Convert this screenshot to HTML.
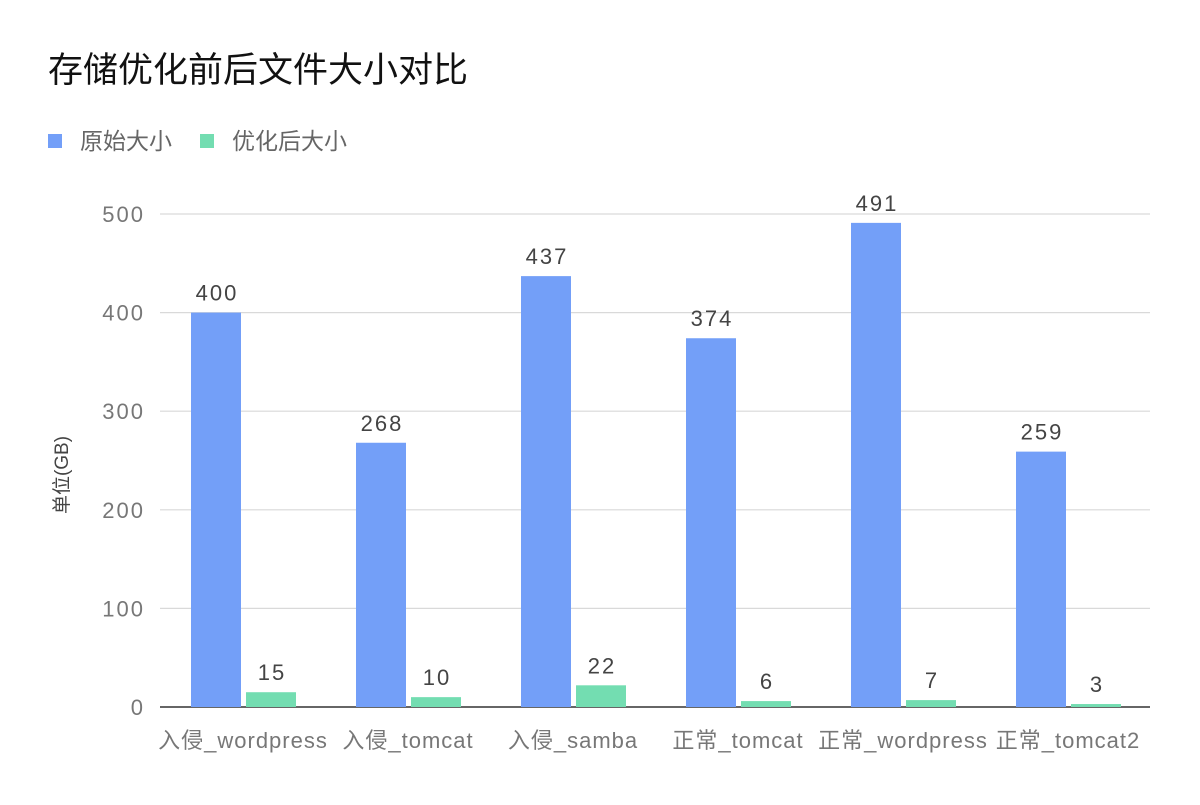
<!DOCTYPE html>
<html><head><meta charset="utf-8"><style>
body{margin:0;background:#fff;font-family:"Liberation Sans","Noto Sans CJK SC",sans-serif;}
</style></head><body>
<svg id="c" width="1200" height="800" xmlns="http://www.w3.org/2000/svg">
<text x="48" y="82" font-size="35" fill="#111" font-family="Liberation Sans, Noto Sans CJK SC, sans-serif">存储优化前后文件大小对比</text>
<g>
<rect x="48" y="134" width="14" height="14" fill="#739ff8"/>
<text x="80" y="149" font-size="23" fill="#666" font-family="Liberation Sans, Noto Sans CJK SC, sans-serif">原始大小</text>
<rect x="200" y="134" width="14" height="14" fill="#73ddb1"/>
<text x="232" y="149" font-size="23" fill="#666" font-family="Liberation Sans, Noto Sans CJK SC, sans-serif">优化后大小</text>
</g>
<text transform="translate(68,475) rotate(-90)" text-anchor="middle" font-size="19" fill="#444" font-family="Liberation Sans, Noto Sans CJK SC, sans-serif">单位(GB)</text>
<g id="grid"></g><g id="bars"></g>
</svg>
<script>
const categories=["入侵_wordpress","入侵_tomcat","入侵_samba","正常_tomcat","正常_wordpress","正常_tomcat2"];
const original=[400,268,437,374,491,259];
const optimized=[15,10,22,6,7,3];
const yTicks=[0,100,200,300,400,500];
const NS="http://www.w3.org/2000/svg";
const x0=160,x1=1150,y0=707,y500=214;
const y=v=>y0-(y0-y500)*v/500;
const bw=(x1-x0)/categories.length;
const grid=document.getElementById('grid'),bars=document.getElementById('bars');
function mk(tag,a,p){const e=document.createElementNS(NS,tag);for(const k in a)e.setAttribute(k,a[k]);p.appendChild(e);return e;}
const ff="Liberation Sans, Noto Sans CJK SC, sans-serif";
yTicks.forEach(t=>{
 const l=mk('line',{x1:x0,x2:x1,y1:y(t),y2:y(t),stroke:t===0?'#333':'#d9d9d9','stroke-width':t===0?1.5:1.2},grid);
 
 
 const tx=mk('text',{x:145,y:y(t)+8,'text-anchor':'end','font-size':22,'letter-spacing':2,fill:'#777','font-family':ff},grid);
 tx.textContent=t;
 
 
});
categories.forEach((c,i)=>{
 const s=x0+bw*i;
 [[original[i],s+31,'#739ff8','original'],[optimized[i],s+86,'#73ddb1','optimized']].forEach(([v,bx,col,nm])=>{
  const r=mk('rect',{x:bx,y:y(v),width:50,height:y0-y(v),fill:col},bars);
  
  
  const t=mk('text',{x:bx+26,y:y(v)-12,'text-anchor':'middle','font-size':22,'letter-spacing':2,fill:'#444','font-family':ff},bars);
  t.textContent=v;
  
  
 });
 const lb=mk('text',{x:s+83,y:748,'text-anchor':'middle','font-size':22,'letter-spacing':1,fill:'#777','font-family':ff},bars);
 lb.textContent=c;
 
 
});
</script>
</body></html>
